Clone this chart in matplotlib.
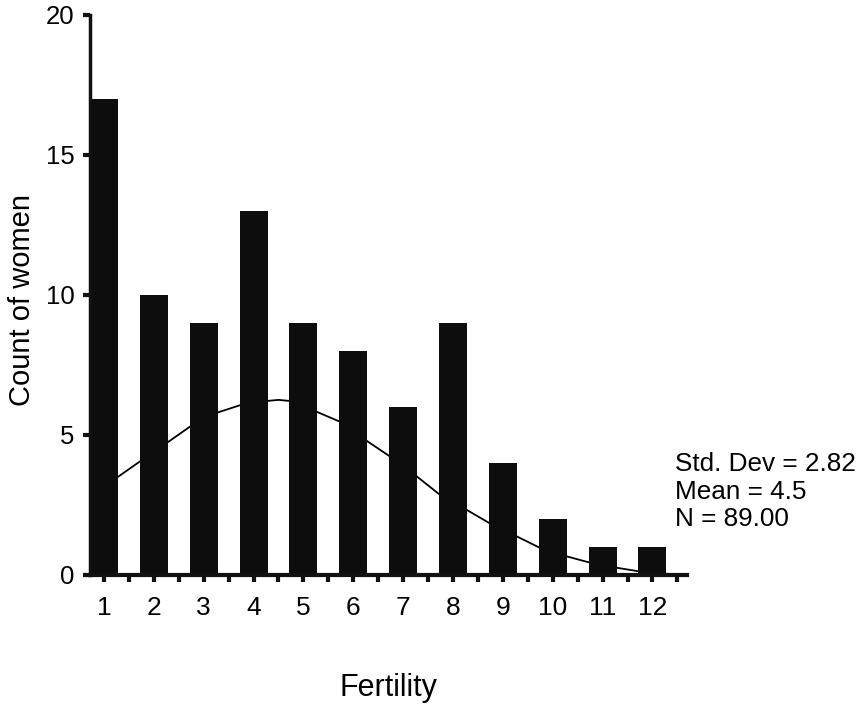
import matplotlib.pyplot as plt

plt.rcParams['font.family'] = ['Liberation Sans', 'DejaVu Sans']

# Histogram counts for each fertility value
fertility = [1, 2, 3, 4, 5, 6, 7, 8, 9, 10, 11, 12]
counts = [17, 10, 9, 13, 9, 8, 6, 9, 4, 2, 1, 1]

# Normal curve
curve_x = [1.0, 1.28, 1.8, 2.29, 2.73, 3.28, 3.8, 4.2, 4.5, 4.8, 5.3, 5.76,
           6.26, 6.76, 7.25, 7.71, 8.2, 8.72, 9.25, 9.75, 10.2, 10.7, 11.2, 11.75, 12.2, 12.65]
curve_y = [3.2, 3.5, 4.15, 4.75, 5.3, 5.8, 6.1, 6.2, 6.25, 6.2, 5.8, 5.45,
           4.8, 4.2, 3.55, 2.9, 2.4, 1.86, 1.4, 0.96, 0.7, 0.46, 0.28, 0.12, 0.05, 0.0]

stats_text = "Std. Dev = 2.82\nMean = 4.5\nN = 89.00"

fig = plt.figure(figsize=(8.62, 7.08), dpi=100)
ax = fig.add_axes([0.1044, 0.188, 0.693, 0.791])

ax.plot(curve_x, curve_y, color='black', lw=1.3, zorder=1)
ax.bar(fertility, counts, width=0.56, color='#0d0d0d', zorder=2)

ax.set_xlim(0.72, 12.7)
ax.set_ylim(0, 20)

ax.set_xticks([x / 2 for x in range(2, 26)])
ax.set_xticklabels([str(i // 2) if i % 2 == 0 else '' for i in range(2, 26)])
ax.set_yticks([0, 5, 10, 15, 20])

ax.tick_params(axis='x', length=5, width=3, pad=10, labelsize=19, color='#111111')
ax.tick_params(axis='y', length=5, width=3, pad=6, labelsize=18.5, color='#111111')

for side in ['top', 'right']:
    ax.spines[side].set_visible(False)
ax.spines['bottom'].set_linewidth(3)
ax.spines['left'].set_linewidth(2.5)
ax.spines['bottom'].set_color('#111111')
ax.spines['left'].set_color('#111111')

fig.text(0.0255, 0.576, 'Count of women', rotation=90, ha='center', va='center', fontsize=21)
fig.text(0.451, 0.028, 'Fertility', ha='center', va='center', fontsize=22)
fig.text(0.783, 0.362, stats_text, ha='left', va='top', fontsize=18.8, linespacing=1.2)

fig.savefig('out.png', dpi=100)
